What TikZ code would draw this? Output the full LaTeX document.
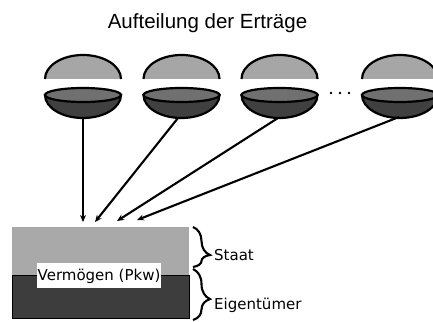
\documentclass[tikz,border=0pt]{standalone}
\usepackage{fontspec}
\setmainfont{Liberation Sans}
\newfontfamily\labelfont{DejaVu Sans}
\usetikzlibrary{arrows.meta,decorations.pathreplacing}

\definecolor{domegray}{HTML}{A6A6A6}
\definecolor{rimgray}{HTML}{707070}
\definecolor{bowldark}{HTML}{404040}
\definecolor{stategray}{HTML}{A9A9A9}
\definecolor{ownerdark}{HTML}{3D3D3D}

\begin{document}
\begin{tikzpicture}[x=1pt,y=1pt,
  outline/.style={draw=black,line width=2.2pt},
  flowline/.style={line width=2.1pt,-{Stealth[length=7pt,width=6pt]}},
  bracket/.style={decorate,decoration={brace,amplitude=17pt,aspect=#1},line width=2.1pt},
  sidelabel/.style={anchor=base west,inner sep=0pt,font=\labelfont\fontsize{15}{18}\selectfont},
  part/.style={anchor=south west,inner sep=0pt,minimum width=177pt}
]
\useasboundingbox (0,0) rectangle (433,321);
\clip (0,0) rectangle (433,321);

% title
\node[font=\fontsize{20.5}{24}\selectfont,anchor=base] (title) at (207.5,292) {Aufteilung der Erträge};

% lids and bowls
\foreach \c in {83,181.5,279.5,400}{
  \fill[domegray] (\c-38,242) arc[start angle=180,end angle=0,x radius=38,y radius=24] -- cycle;
  \draw[line width=2.2pt] (\c-38,242) arc[start angle=180,end angle=0,x radius=38,y radius=24];
  \filldraw[outline,fill=bowldark] (\c-38,226) arc[start angle=180,end angle=360,x radius=38,y radius=23] -- cycle;
  \filldraw[outline,fill=rimgray] (\c,226) ellipse[x radius=38,y radius=7];
}

% ellipsis between the third and fourth bowl
\foreach \x in {331,340,349}{\fill (\x,228) circle[radius=1.4];}

% assets block
\node[part,fill=stategray,minimum height=49pt] (staat) at (12,45) {};
\node[part,fill=ownerdark,draw=black,line width=1pt,minimum height=43pt] (eigen) at (12,2) {};
\node[fill=white,anchor=south west,inner xsep=0.5pt,inner ysep=0pt,minimum height=25pt,
      text depth=0pt,font=\labelfont\fontsize{15}{18}\selectfont] (asset) at (37,33)
      {\raisebox{0pt}[11pt][0pt]{Vermögen (Pkw)}};

% flows from the bowls into the block
\coordinate (b1) at (83,203);
\coordinate (b2) at (178,203);
\coordinate (b3) at (278,203);
\coordinate (b4) at (399,204);
\coordinate (t1) at (83,99);
\coordinate (t2) at (95,99);
\coordinate (t3) at (117,100);
\coordinate (t4) at (137,101);
\foreach \i in {1,2,3,4}{\draw[flowline] (b\i) -- (t\i);}

% braces with their labels
\coordinate (s1) at (193,94);
\coordinate (s2) at (193,54);
\coordinate (e1) at (193,52);
\coordinate (e2) at (193,1);
\draw[bracket=0.7] (s1) -- (s2);
\draw[bracket=0.59] (e1) -- (e2);
\node[sidelabel] (staatlabel) at (214,60) {Staat};
\node[sidelabel] (eigenlabel) at (214,12) {Eigentümer};
\end{tikzpicture}
\end{document}
